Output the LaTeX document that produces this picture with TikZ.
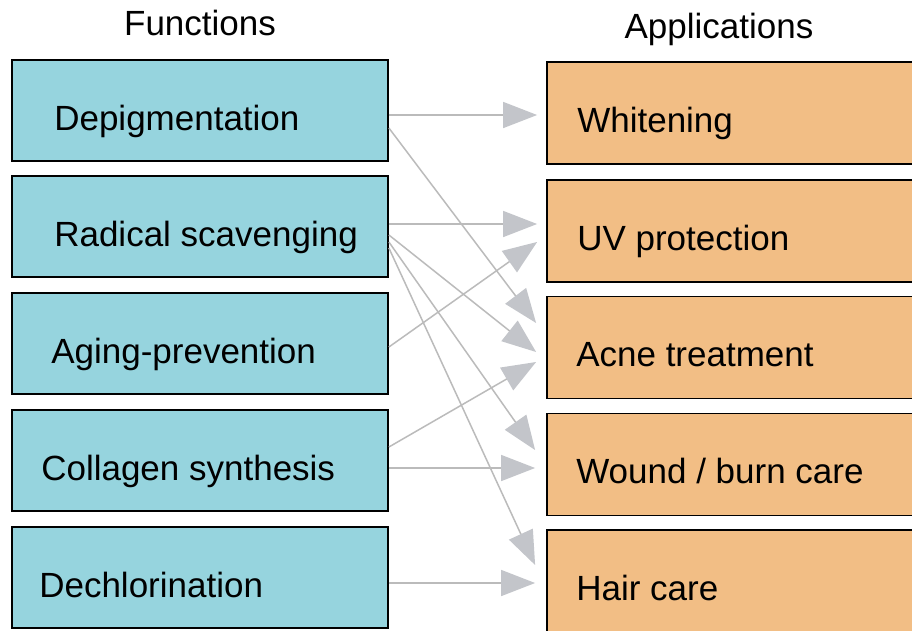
\documentclass[tikz,border=0pt]{standalone}
\usepackage{fontspec}
\setmainfont{Liberation Sans}
\usetikzlibrary{arrows.meta}
\definecolor{funcfill}{HTML}{96D4DE}
\definecolor{appfill}{HTML}{F2BE85}
\definecolor{linegray}{HTML}{BBBBBB}
\definecolor{tipgray}{HTML}{C3C5CA}
\begin{document}
\begin{tikzpicture}[x=1pt,y=-1pt,
  fbox/.style={draw=black, line width=1.8pt, fill=funcfill, minimum width=376pt, minimum height=101pt, inner sep=0pt},
  abox/.style={draw=black, line width=1.8pt, fill=appfill, minimum width=393pt, minimum height=102pt, inner sep=0pt},
  lbl/.style={font=\fontsize{35}{42}\selectfont, inner sep=0pt, anchor=base west},
  ttl/.style={font=\fontsize{35}{42}\selectfont, inner sep=0pt, anchor=base},
  conn/.style={draw=linegray, line width=1.5pt, -{Triangle[length=34pt,width=26pt,fill=tipgray,color=tipgray]}}]
\useasboundingbox (0,0) rectangle (912,630);
\clip (0,0) rectangle (912,630);
\fill[white] (0,0) rectangle (912,630);

% titles
\node[ttl] (tf) at (200,35) {Functions};
\node[ttl] (ta) at (719,38) {Applications};

% function boxes
\node[fbox] (f1) at (200,110.5) {};
\node[fbox] (f2) at (200,226.5) {};
\node[fbox] (f3) at (200,343.5) {};
\node[fbox] (f4) at (200,460.5) {};
\node[fbox] (f5) at (200,577.5) {};
\node[lbl] (f1t) at ([xshift=43pt,yshift=-19.5pt]f1.west) {Depigmentation};
\node[lbl] (f2t) at ([xshift=43pt,yshift=-19.5pt]f2.west) {Radical scavenging};
\node[lbl] (f3t) at ([xshift=40pt,yshift=-19.5pt]f3.west) {Aging-prevention};
\node[lbl] (f4t) at ([xshift=30pt,yshift=-19.5pt]f4.west) {Collagen synthesis};
\node[lbl] (f5t) at ([xshift=28pt,yshift=-19.5pt]f5.west) {Dechlorination};

% application boxes
\node[abox] (a1) at (743.5,113) {};
\node[abox] (a2) at (743.5,231) {};
\node[abox] (a3) at (743.5,347.5) {};
\node[abox] (a4) at (743.5,464.5) {};
\node[abox] (a5) at (743.5,581) {};
\node[lbl] (a1t) at ([xshift=31pt,yshift=-19pt]a1.west) {Whitening};
\node[lbl] (a2t) at ([xshift=31pt,yshift=-19pt]a2.west) {UV protection};
\node[lbl] (a3t) at ([xshift=30pt,yshift=-19pt]a3.west) {Acne treatment};
\node[lbl] (a4t) at ([xshift=30pt,yshift=-19pt]a4.west) {Wound / burn care};
\node[lbl] (a5t) at ([xshift=30pt,yshift=-19pt]a5.west) {Hair care};

% connectors
\draw[conn] ([yshift=-4.5pt]f1.east) -- ([xshift=-9pt,yshift=-2pt]a1.west);
\draw[conn] ([yshift=-17.5pt]f1.east) -- ([xshift=-10pt,yshift=24.5pt]a3.west);
\draw[conn] ([yshift=2.5pt]f2.east) -- ([xshift=-9pt,yshift=7pt]a2.west);
\draw[conn] ([yshift=-3.5pt]f3.east) -- ([xshift=-9pt,yshift=-11pt]a2.west);
\draw[conn] ([yshift=-8.5pt]f2.east) -- ([xshift=-10pt,yshift=-4.5pt]a3.west);
\draw[conn] ([yshift=13.5pt]f4.east) -- ([xshift=-10pt,yshift=-14.5pt]a3.west);
\draw[conn] ([yshift=-15.5pt]f2.east) -- ([xshift=-11pt,yshift=14.5pt]a4.west);
\draw[conn] ([yshift=-7.5pt]f4.east) -- ([xshift=-11pt,yshift=-3.5pt]a4.west);
\draw[conn] ([yshift=-21.5pt]f2.east) -- ([xshift=-11pt,yshift=16pt]a5.west);
\draw[conn] ([yshift=-5.5pt]f5.east) -- ([xshift=-11pt,yshift=-2pt]a5.west);
\end{tikzpicture}
\end{document}
